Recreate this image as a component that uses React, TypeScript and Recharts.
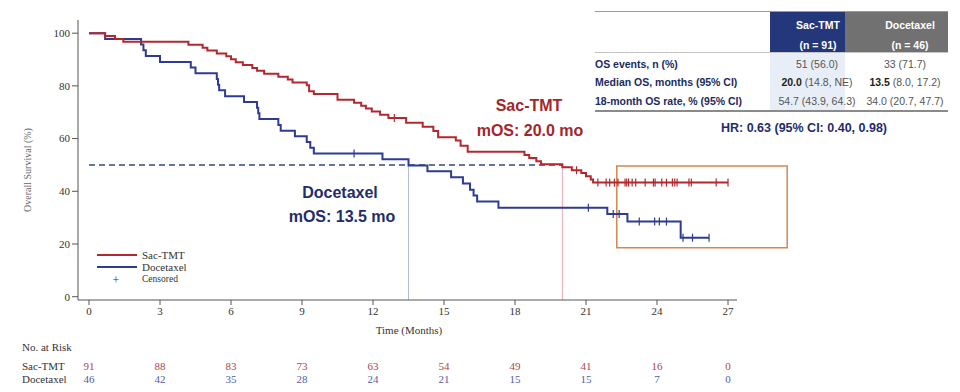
import React from "react";
import {
  ComposedChart,
  Line,
  Scatter,
  XAxis,
  YAxis,
  ReferenceLine,
  ReferenceArea,
} from "recharts";

// Kaplan-Meier steps: [month, survival %]
const sacSteps: [number, number][] = [
  [0, 100], [0.68, 98.9], [1.1, 97.8], [1.45, 96.7], [4.2, 95.6], [4.8, 94.5],
  [5.0, 93.4], [5.4, 92.3], [5.8, 91.2], [6.0, 90.1], [6.2, 89.0], [6.5, 87.9],
  [6.9, 86.8], [7.1, 85.7], [7.4, 84.6], [8.0, 83.5], [8.4, 82.4], [8.6, 81.3],
  [9.2, 80.2], [9.3, 78.0], [9.5, 76.9], [10.5, 74.7], [11.2, 73.6], [11.5, 72.5],
  [11.7, 71.4], [11.95, 70.3], [12.3, 69.0], [12.65, 67.8], [13.4, 66.0],
  [14.1, 64.5], [14.55, 62.9], [14.75, 60.5], [15.5, 59.3], [15.7, 57.3],
  [16.0, 55.0], [18.4, 53.8], [18.6, 52.6], [18.9, 51.4], [19.1, 50.3],
  [20.0, 49.1], [20.4, 48.0], [20.8, 46.9], [21.0, 45.7], [21.2, 44.5],
  [21.3, 43.3], [27.0, 43.3],
];

const docSteps: [number, number][] = [
  [0, 100], [0.68, 97.8], [2.2, 95.7], [2.3, 93.5], [2.4, 91.3], [3.0, 89.1],
  [4.3, 87.0], [4.5, 84.8], [5.4, 82.6], [5.45, 80.4], [5.5, 78.3], [5.75, 76.1],
  [6.55, 73.9], [7.1, 71.7], [7.15, 69.6], [7.2, 67.4], [8.0, 65.2], [8.1, 63.0],
  [8.7, 60.9], [9.2, 58.7], [9.35, 56.5], [9.5, 54.3], [12.4, 52.2], [13.5, 49.8],
  [14.3, 47.6], [15.3, 45.3], [15.8, 43.0], [16.1, 40.6], [16.25, 38.4],
  [16.4, 36.1], [17.3, 33.8], [21.9, 31.4], [22.75, 28.5], [25.0, 22.4],
  [26.2, 22.4],
];

// censoring times (months)
const sacCensored = [
  12.9, 20.6, 21.5, 21.85, 22.0, 22.2, 22.35, 22.65, 22.72, 22.8, 22.95, 23.1,
  23.5, 23.85, 23.92, 24.2, 24.4, 24.65, 24.75, 24.85, 25.35, 25.45, 26.5, 27.0,
];
const docCensored = [11.2, 21.1, 22.15, 22.4, 23.25, 23.9, 24.1, 24.4, 25.1, 25.5, 26.2];

const monthTicks = [0, 3, 6, 9, 12, 15, 18, 21, 24, 27];
const survTicks = [0, 20, 40, 60, 80, 100];
const sacAtRisk = [91, 88, 83, 73, 63, 54, 49, 41, 16, 0];
const docAtRisk = [46, 42, 35, 28, 24, 21, 15, 15, 7, 0];

const RED = "#b3282e";
const BLUE = "#2f3b93";
const NAVY = "#1c2b5e";
const SERIF = "'Liberation Serif', 'DejaVu Serif', serif";
const SANS = "'Liberation Sans', Arial, sans-serif";

const toRows = (steps: [number, number][]) => steps.map(([t, s]) => ({ t, s }));
const survAt = (steps: [number, number][], t: number) => {
  let s = steps[0][1];
  for (const [tt, ss] of steps) if (tt <= t) s = ss;
  return s;
};
const censorRows = (steps: [number, number][], times: number[]) =>
  times.map((t) => ({ t, s: survAt(steps, t) }));

const CensorMark = (props: any) => {
  const { cx, cy, fill } = props;
  if (cx == null || cy == null) return null;
  return <line x1={cx} x2={cx} y1={cy - 4} y2={cy + 4} stroke={fill} strokeWidth={1.2} />;
};

// month label plus the two numbers-at-risk rows under it
const MonthTick = (props: any) => {
  const { x, y, payload } = props;
  const i = monthTicks.indexOf(payload.value);
  return (
    <g fontFamily={SERIF} fontSize={11} textAnchor="middle">
      <text x={x} y={y} dy="0.71em" fill="#333">{payload.value}</text>
      <text x={x} y={y + 62.5} fill="#b4424a">{sacAtRisk[i]}</text>
      <text x={x} y={y + 76} fill="#4f5ea5">{docAtRisk[i]}</text>
    </g>
  );
};

const Txt = ({ x, y, children, style, anchor = "middle" }: any) => (
  <div
    style={{
      position: "absolute",
      left: x,
      top: y,
      transform: anchor === "middle" ? "translate(-50%, -50%)" : "translate(0, -50%)",
      whiteSpace: "nowrap",
      lineHeight: 1,
      ...style,
    }}
  >
    {children}
  </div>
);

const Box = ({ x, y, w, h, bg }: any) => (
  <div style={{ position: "absolute", left: x, top: y, width: w, height: h, background: bg }} />
);

export default function App() {
  const tickStyle = { fill: "#333", fontSize: 11, fontFamily: SERIF };
  const label = { fontFamily: SANS, fontWeight: 700, fontSize: 10.5, color: NAVY };
  const val = { fontFamily: SANS, fontSize: 10.5, color: "#555" };
  const head = { fontFamily: SANS, fontWeight: 700, fontSize: 10.5, color: "#fff" };
  const ann = { fontFamily: SANS, fontWeight: 700, fontSize: 16 };

  return (
    <div
      style={{
        position: "absolute",
        left: 0,
        top: 0,
        width: 960,
        height: 392,
        background: "#fff",
        overflow: "hidden",
      }}
    >
      <ComposedChart width={960} height={392} margin={{ top: 20, right: 223, bottom: 8, left: 0 }}>
        <XAxis
          xAxisId="main"
          dataKey="t"
          type="number"
          domain={[-0.465, 27.38]}
          ticks={monthTicks}
          allowDataOverflow
          height={84}
          tick={<MonthTick />}
          tickSize={5}
          tickMargin={2}
          stroke="#555"
        />
        <YAxis
          type="number"
          domain={[-1.25, 105]}
          ticks={survTicks}
          allowDataOverflow
          width={78}
          tick={tickStyle}
          tickSize={6}
          tickMargin={2}
          stroke="#555"
        />
        <ReferenceLine
          xAxisId="main"
          segment={[{ x: 0, y: 50 }, { x: 20, y: 50 }]}
          stroke="#34487e"
          strokeWidth={1.5}
          strokeDasharray="6 4"
        />
        <ReferenceLine
          xAxisId="main"
          segment={[{ x: 13.5, y: -1.25 }, { x: 13.5, y: 50 }]}
          stroke="#b3c0e0"
          strokeWidth={1}
        />
        <ReferenceLine
          xAxisId="main"
          segment={[{ x: 20, y: -1.25 }, { x: 20, y: 49.1 }]}
          stroke="#e6aab0"
          strokeWidth={1}
        />
        <Line
          xAxisId="main"
          data={toRows(docSteps)}
          dataKey="s"
          type="stepAfter"
          stroke={BLUE}
          strokeWidth={2}
          dot={false}
          isAnimationActive={false}
        />
        <Line
          xAxisId="main"
          data={toRows(sacSteps)}
          dataKey="s"
          type="stepAfter"
          stroke={RED}
          strokeWidth={2}
          dot={false}
          isAnimationActive={false}
        />
        <Scatter
          xAxisId="main"
          data={censorRows(docSteps, docCensored)}
          dataKey="s"
          fill={BLUE}
          shape={CensorMark}
          isAnimationActive={false}
        />
        <Scatter
          xAxisId="main"
          data={censorRows(sacSteps, sacCensored)}
          dataKey="s"
          fill={RED}
          shape={CensorMark}
          isAnimationActive={false}
        />
        <ReferenceArea
          xAxisId="main"
          x1={22.3}
          x2={29.5}
          y1={18.6}
          y2={49.6}
          ifOverflow="visible"
          fill="none"
          fillOpacity={0}
          stroke="#d6874f"
          strokeWidth={1.5}
        />
      </ComposedChart>

      {/* axis titles */}
      <Txt x={28} y={170} style={{ fontFamily: SERIF, fontSize: 10, color: "#666", transform: "translate(-50%, -50%) rotate(-90deg)" }}>
        Overall Survival (%)
      </Txt>
      <Txt x={409} y={330} style={{ fontFamily: SERIF, fontSize: 11, color: "#333" }}>
        Time (Months)
      </Txt>

      {/* risk table labels */}
      <Txt x={22} y={347} anchor="left" style={{ fontFamily: SERIF, fontSize: 11, color: "#333" }}>No. at Risk</Txt>
      <Txt x={22} y={366} anchor="left" style={{ fontFamily: SERIF, fontSize: 11, color: "#333" }}>Sac-TMT</Txt>
      <Txt x={22} y={379} anchor="left" style={{ fontFamily: SERIF, fontSize: 11, color: "#333" }}>Docetaxel</Txt>

      {/* legend */}
      <Box x={97} y={254} w={40} h={2} bg={RED} />
      <Box x={97} y={266} w={40} h={2} bg={BLUE} />
      <Txt x={142} y={255} anchor="left" style={{ fontFamily: SERIF, fontSize: 11, color: "#333" }}>Sac-TMT</Txt>
      <Txt x={142} y={267} anchor="left" style={{ fontFamily: SERIF, fontSize: 11, color: "#333" }}>Docetaxel</Txt>
      <Txt x={116} y={280} style={{ fontFamily: SERIF, fontSize: 12, color: "#333" }}>+</Txt>
      <Txt x={142} y={280} anchor="left" style={{ fontFamily: SERIF, fontSize: 9.5, color: "#333" }}>Censored</Txt>

      {/* curve annotations */}
      <Txt x={529} y={106} style={{ ...ann, color: "#a3262b" }}>Sac-TMT</Txt>
      <Txt x={530} y={131} style={{ ...ann, color: "#a3262b" }}>mOS: 20.0 mo</Txt>
      <Txt x={340} y={193} style={{ ...ann, color: "#1f2d6b" }}>Docetaxel</Txt>
      <Txt x={342} y={217} style={{ ...ann, color: "#1f2d6b" }}>mOS: 13.5 mo</Txt>

      {/* summary table */}
      <Box x={770} y={11} w={75} h={41} bg="#24377a" />
      <Box x={845} y={11} w={103} h={41} bg="#717171" />
      <Box x={770} y={53} w={75} h={57} bg="#e8eef8" />
      <Box x={595} y={11} w={353} h={1} bg="#9a9a9a" />
      <Box x={595} y={52} w={353} h={1} bg="#c4c4c4" />
      <Box x={595} y={110} w={353} h={1.5} bg="#8a8a8a" />
      <Txt x={818} y={25} style={head}>Sac-TMT</Txt>
      <Txt x={818} y={45} style={head}>(n = 91)</Txt>
      <Txt x={910} y={25} style={head}>Docetaxel</Txt>
      <Txt x={910} y={45} style={head}>(n = 46)</Txt>

      <Txt x={595} y={64} anchor="left" style={label}>OS events, n (%)</Txt>
      <Txt x={595} y={82} anchor="left" style={label}>Median OS, months (95% CI)</Txt>
      <Txt x={595} y={101} anchor="left" style={label}>18-month OS rate, % (95% CI)</Txt>

      <Txt x={817} y={64} style={val}>51 (56.0)</Txt>
      <Txt x={817} y={82} style={val}><b style={{ color: "#222" }}>20.0</b> (14.8, NE)</Txt>
      <Txt x={817} y={101} style={val}>54.7 (43.9, 64.3)</Txt>
      <Txt x={905} y={64} style={val}>33 (71.7)</Txt>
      <Txt x={905} y={82} style={val}><b style={{ color: "#222" }}>13.5</b> (8.0, 17.2)</Txt>
      <Txt x={905} y={101} style={val}>34.0 (20.7, 47.7)</Txt>

      <Txt x={804} y={128} style={{ fontFamily: SANS, fontWeight: 700, fontSize: 12.5, color: "#1f2d6b" }}>
        HR: 0.63 (95% CI: 0.40, 0.98)
      </Txt>
    </div>
  );
}
